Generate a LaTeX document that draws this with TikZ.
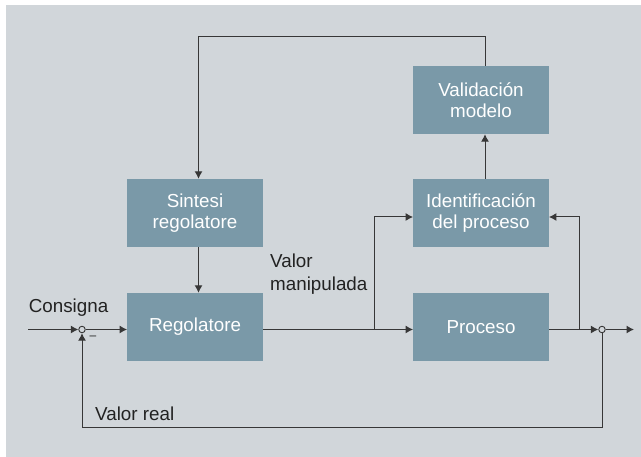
\documentclass[tikz,border=0pt]{standalone}
\usepackage{fontspec}
\setmainfont{Liberation Sans}
\usetikzlibrary{arrows.meta}
\definecolor{bgc}{RGB}{209,214,218}
\definecolor{boxc}{RGB}{122,153,168}
\definecolor{linec}{RGB}{55,55,55}
\definecolor{txtc}{RGB}{34,34,34}
\begin{document}
\begin{tikzpicture}[x=1pt,y=-1pt,
  blk/.style={rectangle,fill=boxc,minimum width=135.5pt,minimum height=68pt,inner sep=0pt,
    text=white,align=center,font=\fontsize{18.8pt}{21.6pt}\selectfont},
  lbl/.style={text=txtc,inner sep=0pt,font=\fontsize{18.8pt}{23pt}\selectfont},
  sumc/.style={circle,draw=linec,fill=bgc,line width=0.9pt,minimum size=6.5pt,inner sep=0pt},
  arr/.style={draw=linec,line width=1pt,-{Latex[length=7.5pt,width=8pt]}},
  ln/.style={draw=linec,line width=1pt}]
\useasboundingbox (0,0) rectangle (641,457);
\fill[white] (0,0) rectangle (641,457);
\fill[bgc] (6,5) rectangle (641,457);

\node[blk] (valid) at (481,100) {Validación\\modelo};
\node[blk] (sint) at (195,213) {Sintesi\\regolatore};
\node[blk] (ident) at (481,213) {Identificación\\del proceso};
\node[blk] (reg) at (195,327) {Regolatore};
\node[blk] (proc) at (481,327) {Proceso};

\node[sumc] (s1) at (82,329.5) {};
\node[sumc] (s2) at (602,329.5) {};
\coordinate (in) at (28,329.5);
\coordinate (out) at (634,329.5);
\coordinate (b1) at (374,329.5);
\coordinate (b2) at (579.3,329.5);
\coordinate (tl) at (198.5,36.5);
\coordinate (fb) at (82,428);

\draw[arr] (in) -- (s1);
\draw[arr] (s1) -- (s1 -| reg.west);
\draw[arr] (reg.east |- s1) -- (proc.west |- s1);
\draw[arr] (proc.east |- s2) -- (s2);
\draw[arr] (s2) -- (out);
\draw[arr] (b1) |- ([yshift=-4pt]ident.west);
\draw[arr] (b2) |- ([yshift=-4pt]ident.east);
\draw[arr] ([xshift=4pt]ident.north) -- ([xshift=4pt]valid.south);
\draw[arr] ([xshift=3.5pt]sint.south) -- ([xshift=3.5pt]reg.north);
\draw[arr] ([xshift=4pt]valid.north) |- (tl) -- ([xshift=3.5pt]sint.north);
\draw[arr] (s2) |- (fb) -- (s1);

\node[lbl,anchor=base west] (cons) at (28.6,312.3) {Consigna};
\node[lbl,anchor=base west,align=left] (vm) at (270,291) {Valor\\manipulada};
\node[lbl,anchor=base west] (vr) at (95,421) {Valor real};
\node[text=txtc,inner sep=0pt,font=\fontsize{12pt}{12pt}\selectfont] (minus) at (93,337.5) {–};
\end{tikzpicture}
\end{document}
